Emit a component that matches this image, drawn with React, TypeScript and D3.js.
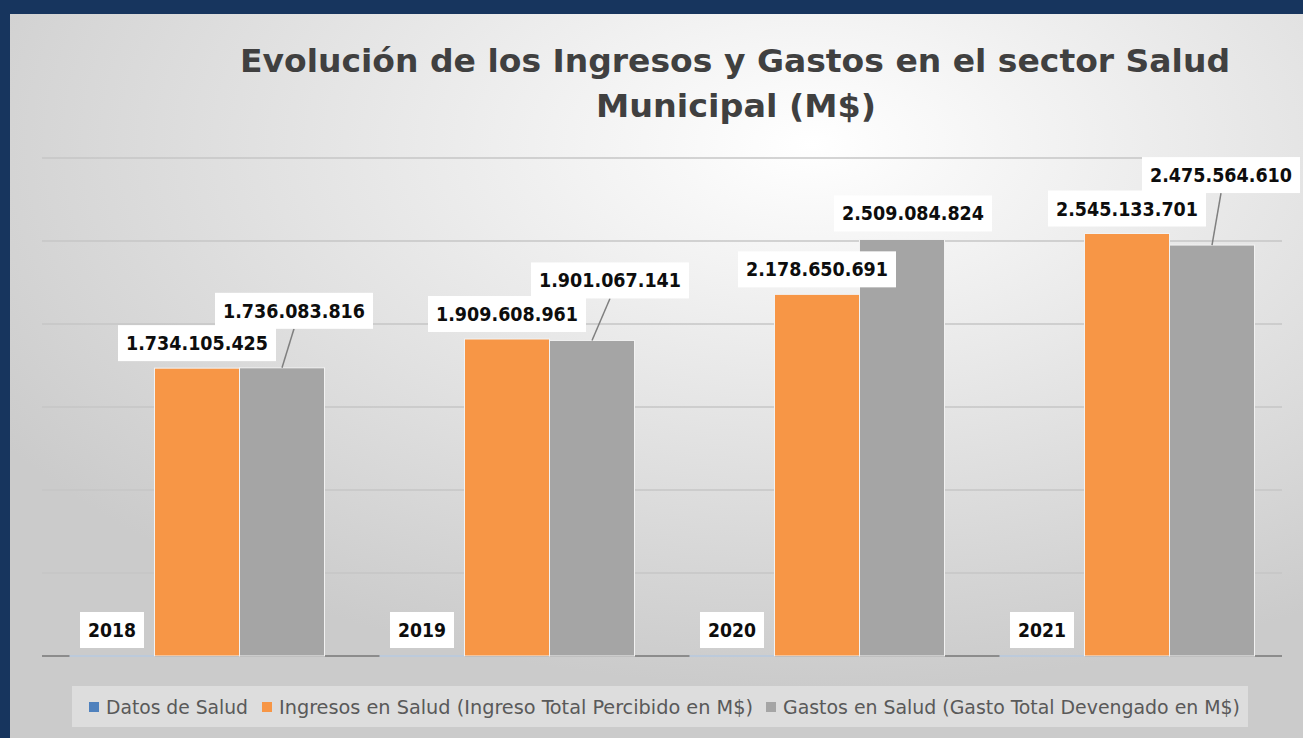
import React from "react";
import * as d3 from "d3";

const years = ["2018", "2019", "2020", "2021"];
const seriesNames = [
  "Datos de Salud",
  "Ingresos en Salud (Ingreso Total Percibido en M$)",
  "Gastos en Salud (Gasto Total Devengado en M$)",
];
const datos = [2018, 2019, 2020, 2021];
const ingresos = [1734105425, 1909608961, 2178650691, 2545133701];
const gastos = [1736083816, 1901067141, 2509084824, 2475564610];
const yTicks = [0, 500000000, 1000000000, 1500000000, 2000000000, 2500000000, 3000000000];
const colors = ["#4f81bd", "#f79646", "#a5a5a5"];
// manual label offsets (layout) for the gray series labels: [dx, dy from bar top]
const gastoLabelOffsets = [[12, -57], [18, -60], [11, -26], [9, -70]];

const W = 1303, H = 738;
const fmt = (v: number) => d3.format(",")(v).replace(/,/g, ".");

function LabelBox({ cx, cy, text, w }: { cx: number; cy: number; text: string; w: number }) {
  return (
    <g>
      <rect x={cx - w / 2 - 8} y={cy - 18} width={w + 16} height={36} fill="#ffffff" />
      <text x={cx} y={cy + 7} textAnchor="middle" fontFamily="DejaVu Sans" fontWeight="bold" fontSize={19}
        fill="#0d0d0d" textLength={w} lengthAdjust="spacingAndGlyphs">{text}</text>
    </g>
  );
}

export default function App() {
  const x0 = d3.scaleBand<string>().domain(years).range([42, 1282]).paddingInner(0).paddingOuter(0);
  const x1 = d3.scaleBand<number>().domain([0, 1, 2]).range([0, x0.bandwidth()]).paddingInner(0).paddingOuter(0.3235);
  const y = d3.scaleLinear().domain([0, 3000000000]).range([656, 158]);
  const seriesVals = [datos, ingresos, gastos];
  const bw = x1.bandwidth();

  return (
    <svg width={W} height={H} style={{ position: "absolute", left: 0, top: 0 }}>
      <defs>
        <radialGradient id="bg" cx="0.62" cy="0.18" r="0.75" fx="0.62" fy="0.18">
          <stop offset="0" stopColor="#ffffff" />
          <stop offset="1" stopColor="#cbcbcb" />
        </radialGradient>
      </defs>
      <rect x={0} y={0} width={W} height={H} fill="#17355e" />
      <rect x={10} y={14} width={W - 10} height={H - 14} fill="url(#bg)" />
      {/* title */}
      <text x={735} y={72} textAnchor="middle" fontFamily="DejaVu Sans" fontWeight="bold" fontSize={32}
        fill="#404040" textLength={990} lengthAdjust="spacingAndGlyphs">
        Evolución de los Ingresos y Gastos en el sector Salud
      </text>
      <text x={736} y={117} textAnchor="middle" fontFamily="DejaVu Sans" fontWeight="bold" fontSize={32}
        fill="#404040" textLength={280} lengthAdjust="spacingAndGlyphs">
        Municipal (M$)
      </text>
      {/* gridlines */}
      {yTicks.map((t) => (
        <line key={t} x1={42} x2={1282} y1={y(t)} y2={y(t)} stroke={t === 0 ? "#8c8c8c" : "#c6c6c6"} strokeWidth={t === 0 ? 2 : 1.5} />
      ))}
      {/* bars */}
      {years.map((yr, i) => (
        <g key={yr}>
          {seriesVals.map((vals, s) => {
            const bx = x0(yr)! + x1(s)!;
            const top = y(vals[i]);
            const h = Math.max(2, 656 - top);
            return (
              <rect key={s} x={bx} y={656 - h + (s === 0 ? 1 : 0)} width={bw} height={h}
                fill={s === 0 ? "#bccadb" : colors[s]} stroke={s === 0 ? "none" : "#f2f2f2"} strokeWidth={1} />
            );
          })}
        </g>
      ))}
      {/* leader lines */}
      {years.map((yr, i) => {
        const cx = x0(yr)! + x1(2)! + bw / 2;
        const top = y(gastos[i]);
        const [dx, dy] = gastoLabelOffsets[i];
        if (dy > -40) return null;
        return <line key={yr} x1={cx + dx} y1={top + dy + 18} x2={cx} y2={top} stroke="#7f7f7f" strokeWidth={1.5} />;
      })}
      {/* labels */}
      {years.map((yr, i) => {
        const c0 = x0(yr)! + x1(0)! + bw / 2;
        const c1 = x0(yr)! + x1(1)! + bw / 2;
        const c2 = x0(yr)! + x1(2)! + bw / 2;
        const [dx, dy] = gastoLabelOffsets[i];
        return (
          <g key={yr}>
            <LabelBox cx={c0} cy={y(datos[i]) - 26} text={String(datos[i])} w={48} />
            <LabelBox cx={c1} cy={y(ingresos[i]) - 25} text={fmt(ingresos[i])} w={142} />
            <LabelBox cx={c2 + dx} cy={y(gastos[i]) + dy} text={fmt(gastos[i])} w={142} />
          </g>
        );
      })}
      {/* legend */}
      <rect x={72} y={686} width={1176} height={41} fill="#e0e0e0" opacity={0.85} />
      {[
        { sx: 89, tx: 106, tw: 142 },
        { sx: 262, tx: 279, tw: 474 },
        { sx: 766, tx: 783, tw: 457 },
      ].map((l, s) => (
        <g key={s}>
          <rect x={l.sx} y={702} width={10} height={10} fill={colors[s]} />
          <text x={l.tx} y={714} fontFamily="DejaVu Sans Condensed, DejaVu Sans" fontSize={19} fill="#595959"
            textLength={l.tw} lengthAdjust="spacingAndGlyphs">{seriesNames[s]}</text>
        </g>
      ))}
    </svg>
  );
}
